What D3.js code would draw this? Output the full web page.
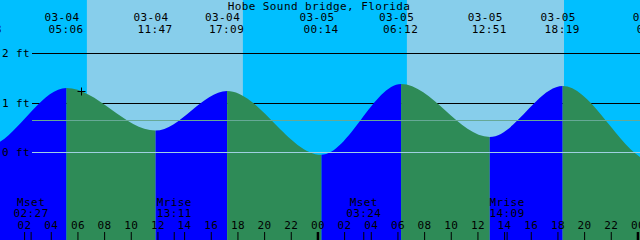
<!DOCTYPE html>
<html>
<head>
<meta charset="utf-8">
<script src="https://cdn.jsdelivr.net/npm/d3@7"></script>
<style>
  body { margin: 0; background: #fff; }
  svg { display: block; }
  text { font-family: "DejaVu Sans Mono", monospace; font-size: 11px; letter-spacing: 0.4px; fill: #000; }
</style>
</head>
<body>
<div id="chart"></div>
<script>
// tide extremes (UTC used as local station time); first and last are just outside the view
const tideTimes = ["2025-03-03T16:40", "2025-03-03T22:58", "2025-03-04T05:06", "2025-03-04T11:47", "2025-03-04T17:09",
  "2025-03-05T00:14", "2025-03-05T06:12", "2025-03-05T12:51", "2025-03-05T18:19", "2025-03-06T01:14", "2025-03-06T07:10"];
const tideLevels = [1.20, 0.10, 1.30, 0.44, 1.24, -0.05, 1.38, 0.31, 1.34, -0.20, 1.42];

// daylight periods
const sunrises = ["2025-03-04T06:38", "2025-03-05T06:38"];
const sunsets = ["2025-03-04T18:20", "2025-03-05T18:25"];

// moon events
const moonNames = ["Mset", "Mrise", "Mset", "Mrise"];
const moonTimes = ["2025-03-04T02:27", "2025-03-04T13:11", "2025-03-05T03:24", "2025-03-05T14:09"];

const levelTicks = [0, 1, 2];
const levelLabels = ["0 ft", "1 ft", "2 ft"];
const mslLevel = 0.65;

const nowTime = "2025-03-04T06:13";
const nowLevel = 1.24;

const title = "Hobe Sound bridge, Florida";

const width = 640, height = 240;
const parse = d3.utcParse("%Y-%m-%dT%H:%M");

const tides = tideTimes.map((t, i) => ({ t: parse(t), v: tideLevels[i] }));

var x = d3.scaleUtc()
  .domain([parse("2025-03-04T00:07"), parse("2025-03-06T00:07")])
  .range([0, width]);
var y = d3.scaleLinear()
  .domain([0, 2])
  .range([152.3, 53.3]);

let svg = d3.select("#chart").append("svg")
  .attr("width", width)
  .attr("height", height);

// night background, then day bands
svg.append("rect")
  .attr("width", width).attr("height", height)
  .attr("fill", "#00BFFF");
svg.selectAll(".day")
  .data(sunrises)
  .enter().append("rect")
    .attr("class", "day")
    .attr("x", d => x(parse(d)))
    .attr("width", (d, i) => x(parse(sunsets[i])) - x(parse(d)))
    .attr("y", 0)
    .attr("height", height)
    .attr("fill", "#87CEEB");

// black level lines behind the water
svg.selectAll(".lvl")
  .data(levelTicks.filter(d => d > 0))
  .enter().append("line")
    .attr("class", "lvl")
    .attr("x1", 32).attr("x2", width)
    .attr("y1", d => Math.round(y(d)) + 0.5)
    .attr("y2", d => Math.round(y(d)) + 0.5)
    .attr("stroke", "#000");

// tide area, coloured by rising / falling
let area = d3.area()
  .x(d => x(d.t))
  .y0(height)
  .y1(d => y(d.v))
  .curve(d3.curveMonotoneX);
let areaPath = area(tides);

let defs = svg.append("defs");
tides.slice(0, -1).forEach((d, i) => {
  let next = tides[i + 1];
  defs.append("clipPath").attr("id", "seg" + i)
    .append("rect")
      .attr("x", x(d.t))
      .attr("width", x(next.t) - x(d.t))
      .attr("y", 0)
      .attr("height", height);
  svg.append("path")
    .attr("d", areaPath)
    .attr("clip-path", "url(#seg" + i + ")")
    .attr("fill", next.v > d.v ? "#0000FF" : "#2E8B57");
});

// mean sea level and datum lines on top
svg.append("line")
  .attr("x1", 32).attr("x2", width)
  .attr("y1", Math.round(y(mslLevel)) + 0.5).attr("y2", Math.round(y(mslLevel)) + 0.5)
  .attr("stroke", "#66a996");
svg.append("line")
  .attr("x1", 32).attr("x2", width)
  .attr("y1", Math.round(y(0)) + 0.5).attr("y2", Math.round(y(0)) + 0.5)
  .attr("stroke", "#9fd0e2");

// level labels
svg.selectAll(".lvlLabel")
  .data(levelTicks)
  .enter().append("text")
    .attr("x", 2)
    .attr("y", d => y(d) + 4)
    .text((d, i) => levelLabels[i]);

// title
svg.append("text")
  .attr("x", 319).attr("y", 10)
  .style("text-anchor", "middle")
  .text(title);

// tide time labels
let fmtDate = d3.utcFormat("%m-%d"), fmtTime = d3.utcFormat("%H:%M");
svg.selectAll(".tDate")
  .data(tides)
  .enter().append("text")
    .attr("x", d => x(d.t) - 4.5)
    .attr("y", 21)
    .style("text-anchor", "middle")
    .text(d => fmtDate(d.t));
svg.selectAll(".tTime")
  .data(tides)
  .enter().append("text")
    .attr("x", d => x(d.t) - 0.5)
    .attr("y", 33)
    .style("text-anchor", "middle")
    .text(d => fmtTime(d.t));

// current time mark
let nx = Math.round(x(parse(nowTime))) + 0.5, ny = Math.round(y(nowLevel)) + 0.5;
svg.append("path")
  .attr("d", `M${nx - 4},${ny}H${nx + 4}M${nx},${ny - 4}V${ny + 4}`)
  .attr("stroke", "#000");

// hour axis along the bottom
let axis = svg.append("g")
  .attr("transform", "translate(0," + height + ")")
  .call(d3.axisTop(x)
    .ticks(d3.utcHour.every(2))
    .tickFormat(d3.utcFormat("%H"))
    .tickSize(8)
    .tickPadding(3)
    .offset(-0.5));
axis.select(".domain").remove();
axis.selectAll("text")
  .attr("fill", "#000")
  .style("font-family", "DejaVu Sans Mono, monospace")
  .style("font-size", "11px");
axis.selectAll(".tick line")
  .attr("stroke", "#000")
  .attr("stroke-width", d => d.getUTCHours() === 0 ? 2.5 : 1);

// moon events
let moons = moonTimes.map((t, i) => ({ t: parse(t), name: moonNames[i] }));
svg.selectAll(".mTick")
  .data(moons)
  .enter().append("line")
    .attr("x1", d => x(d.t)).attr("x2", d => x(d.t))
    .attr("y1", 232).attr("y2", height)
    .attr("stroke", "#000");
svg.selectAll(".mName")
  .data(moons)
  .enter().append("text")
    .attr("x", d => x(d.t))
    .attr("y", 206)
    .style("text-anchor", "middle")
    .text(d => d.name);
svg.selectAll(".mTime")
  .data(moons)
  .enter().append("text")
    .attr("x", d => x(d.t))
    .attr("y", 217)
    .style("text-anchor", "middle")
    .text(d => fmtTime(d.t));
</script>
</body>
</html>
